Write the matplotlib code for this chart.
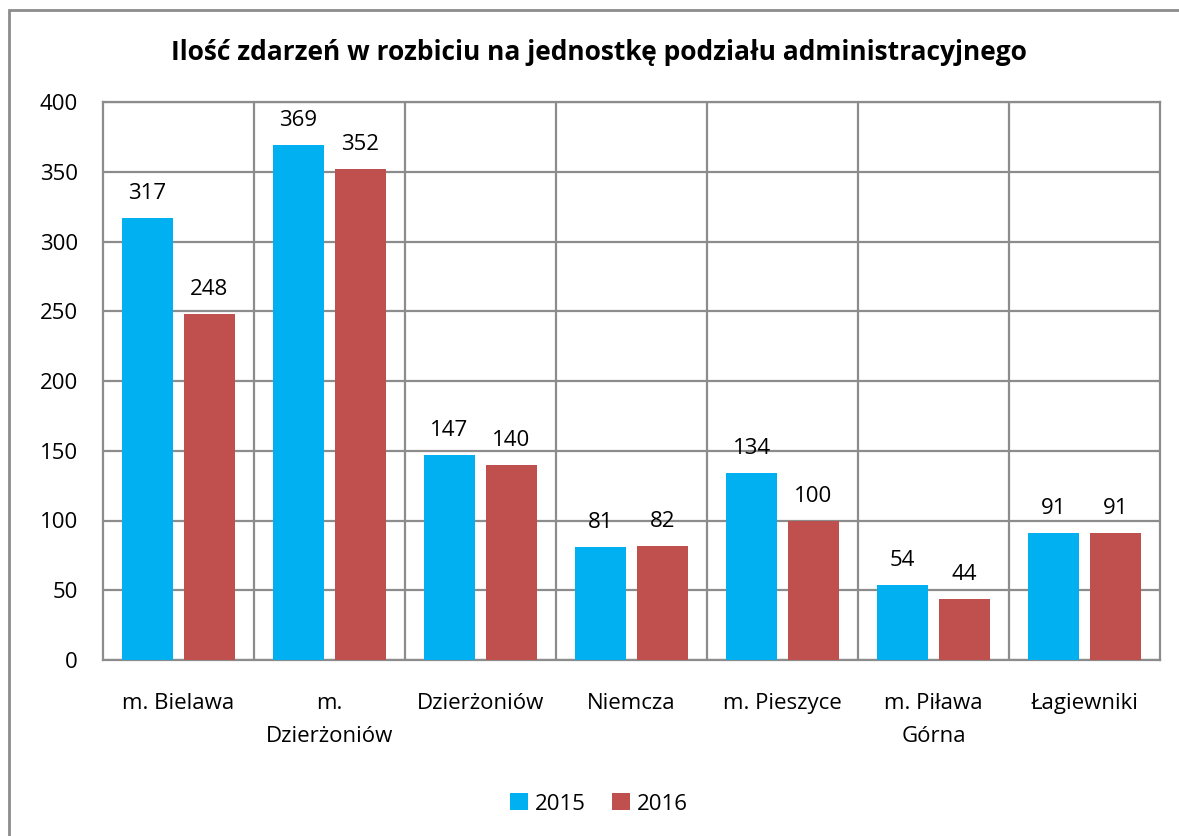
import matplotlib.pyplot as plt
import numpy as np
from matplotlib.patches import Rectangle

plt.rcParams['font.family'] = ['Open Sans', 'DejaVu Sans']

categories = ['m. Bielawa', 'm.\nDzierżoniów', 'Dzierżoniów', 'Niemcza',
              'm. Pieszyce', 'm. Piława\nGórna', 'Łagiewniki']
values_2015 = [317, 369, 147, 81, 134, 54, 91]
values_2016 = [248, 352, 140, 82, 100, 44, 91]
series = ['2015', '2016']
colors = ['#00B0F0', '#C0504D']
grid_color = '#8C8C8C'

fig = plt.figure(figsize=(11.79, 8.36), dpi=100)
ax = fig.add_axes([103 / 1179, 1 - 660 / 836, (1160 - 103) / 1179, (660 - 102) / 836])

# outer chart border
fig.patches.append(Rectangle((9 / 1179, -0.05), 1.1, 1 - 10 / 836 + 0.05,
                             transform=fig.transFigure, fill=False,
                             edgecolor=grid_color, linewidth=2))

x = np.arange(len(categories))
width = 0.34
offset = 0.205
for vals, name, color, dx in zip([values_2015, values_2016], series, colors, [-offset, offset]):
    bars = ax.bar(x + dx, vals, width, color=color, label=name, zorder=3)
    for bar, v in zip(bars, vals):
        ax.text(bar.get_x() + bar.get_width() / 2, v + 10, str(v),
                ha='center', va='bottom', fontsize=16)

ax.set_xlim(-0.5, len(categories) - 0.5)
ax.set_ylim(0, 400)
ax.set_yticks(range(0, 401, 50))
ax.set_xticks(x)
ax.set_xticklabels(categories, fontsize=16, va='top', linespacing=1.75)
ax.tick_params(axis='y', labelsize=16, length=0, pad=18)
ax.tick_params(axis='x', length=0, pad=24)
for xb in np.arange(0.5, len(categories) - 0.5, 1):
    ax.axvline(xb, color=grid_color, linewidth=1.6, zorder=1)
ax.yaxis.grid(True, color=grid_color, linewidth=1.6, zorder=1)
ax.set_axisbelow(True)
for s in ax.spines.values():
    s.set_color(grid_color)
    s.set_linewidth(1.6)

fig.suptitle('Ilość zdarzeń w rozbiciu na jednostkę podziału administracyjnego',
             x=0.508, y=1 - 52 / 836, va='center', fontsize=19, fontweight='bold')

fig.legend(loc='center', bbox_to_anchor=(0.508, 1 - 804 / 836), ncol=2, frameon=False,
           fontsize=16, handlelength=0.8, handleheight=0.8, handletextpad=0.3,
           columnspacing=1.2)

fig.savefig('out.png', dpi=100)
